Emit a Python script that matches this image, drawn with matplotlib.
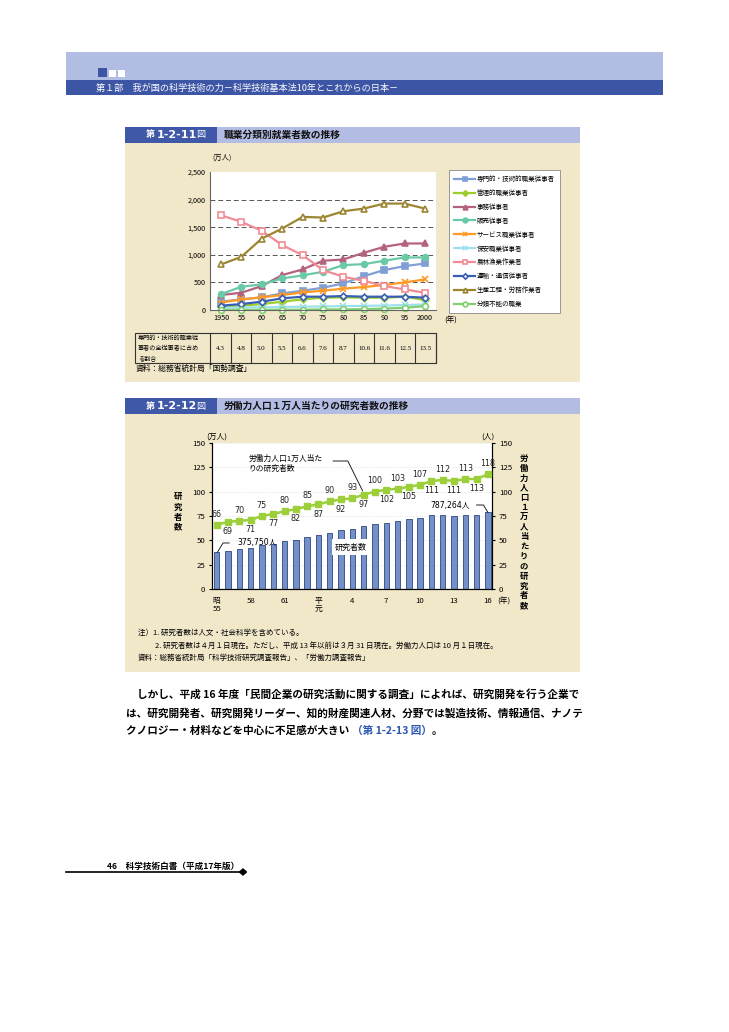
import numpy as np
import matplotlib
matplotlib.use('Agg')
import matplotlib.pyplot as plt
from matplotlib.patches import Rectangle, Polygon

plt.rcParams['font.family'] = ['Noto Sans CJK JP', 'DejaVu Sans']

W, H = 729, 1032

# ---- chart 1 data (万人) ----
years1 = [1950, 1955, 1960, 1965, 1970, 1975, 1980, 1985, 1990, 1995, 2000]
year_labels1 = ['1950', '55', '60', '65', '70', '75', '80', '85', '90', '95', '2000']
senmon = [151, 193, 229, 301, 349, 404, 482, 614, 723, 795, 843]
kanri = [60, 78, 108, 150, 193, 223, 229, 223, 223, 241, 181]
jimu = [271, 313, 434, 633, 735, 892, 916, 1036, 1145, 1205, 1205]
hanbai = [289, 422, 464, 572, 627, 693, 813, 831, 892, 952, 952]
service = [133, 193, 229, 271, 319, 349, 386, 416, 452, 500, 554]
hoan = [40, 45, 50, 55, 60, 65, 70, 75, 80, 90, 100]
nourin = [1717, 1596, 1434, 1175, 994, 723, 602, 530, 434, 373, 313]
unyu = [78, 108, 151, 211, 241, 241, 253, 241, 241, 241, 223]
seisan = [825, 964, 1295, 1476, 1687, 1675, 1789, 1837, 1928, 1928, 1837]
bunrui = [2, 3, 2, 5, 5, 10, 10, 15, 25, 40, 70]
share = ['4.3', '4.8', '5.0', '5.5', '6.6', '7.6', '8.7', '10.6', '11.6', '12.5', '13.5']

series1 = [
    ('専門的・技術的職業従事者', senmon, '#7f9fd6', 's', True),
    ('管理的職業従事者', kanri, '#9ccf2c', 'D', True),
    ('事務従事者', jimu, '#b4637f', '^', True),
    ('販売従事者', hanbai, '#6acaa6', 'o', True),
    ('サービス職業従事者', service, '#ff9a26', 'x', True),
    ('保安職業従事者', hoan, '#9fe0ec', 'x', True),
    ('農林漁業作業者', nourin, '#f28c94', 's', False),
    ('運輸・通信従事者', unyu, '#3a5fb2', 'D', False),
    ('生産工程・労務作業者', seisan, '#9c8632', '^', False),
    ('分類不能の職業', bunrui, '#80d070', 'o', False),
]

# ---- chart 2 data ----
researchers = [37.6, 39.5, 41.2, 42.2, 45.3, 46.0, 49.4, 50.5, 53.2, 55.3, 58.0, 60.8, 61.8,
               64.9, 67.0, 68.3, 70.0, 71.7, 73.0, 75.8, 75.8, 75.2, 75.8, 75.8, 78.7]
per10k = [66, 69, 70, 71, 75, 77, 80, 82, 85, 87, 90, 92, 93, 97, 100, 102, 103, 105,
          107, 111, 112, 111, 113, 113, 118]
xt2_pos = [0, 3, 6, 9, 12, 15, 18, 21, 24]
xt2_lab = ['昭\n55', '58', '61', '平\n元', '4', '7', '10', '13', '16']

LATIN_CJK = ['DejaVu Sans', 'Noto Sans CJK JP']


def box(x0, y0, x1, y1):
    return [x0 / W, 1 - y1 / H, (x1 - x0) / W, (y1 - y0) / H]


fig = plt.figure(figsize=(W / 100, H / 100), dpi=100)
page = fig.add_axes([0, 0, 1, 1])
page.set_xlim(0, W)
page.set_ylim(H, 0)
page.axis('off')


def rect(x0, y0, x1, y1, color, **kw):
    page.add_patch(Rectangle((x0, y0), x1 - x0, y1 - y0, facecolor=color, edgecolor='none', **kw))


# header
rect(66, 52, 663, 80, '#b2bde3')
rect(66, 80, 663, 95, '#3d55a5')
rect(98, 68, 107, 77, '#3d55a5')
rect(109, 70, 116, 77, 'white')
rect(118, 70, 125, 77, 'white')
page.text(96, 88, '第１部　我が国の科学技術の力－科学技術基本法10年とこれからの日本－',
          color='white', fontsize=6.6, va='center', ha='left')

BEIGE = '#f1e7c9'
LAV = '#b3bde3'
DARK = '#3f59a8'


def title_bar(y0, y1, num, title):
    rect(125, y0, 580, y1, LAV)
    rect(125, y0, 217, y1, DARK)
    page.text(146, (y0 + y1) / 2, '第', color='white', fontsize=6.5, va='center', ha='left', weight='bold')
    page.text(157, (y0 + y1) / 2, num, color='white', fontsize=8, va='center', ha='left', weight='bold',
              family='DejaVu Sans')
    page.text(196, (y0 + y1) / 2, '図', color='white', fontsize=6.5, va='center', ha='left')
    page.text(224, (y0 + y1) / 2, title, color='#111111', fontsize=7, va='center', ha='left', weight='bold')


# chart 1 frame
rect(125, 143, 580, 382, BEIGE)
title_bar(127, 143, '1-2-11', '職業分類別就業者数の推移')
page.text(212, 158, '(万人)', fontsize=5.2, va='center', ha='left')
page.text(444, 321, '(年)', fontsize=5.5, va='center', ha='left')

ax1 = fig.add_axes(box(210, 172, 436, 310))
for name, vals, col, mk, filled in series1:
    mfc = col if filled else 'white'
    ax1.plot(years1, vals, color=col, lw=1.6, marker=mk, ms=4.2 if mk != 'D' else 3.4,
             mfc=mfc, mec=col, mew=1.2, label=name, clip_on=False)
ax1.set_xlim(1947.3, 2002.7)
ax1.set_ylim(0, 2500)
ax1.set_yticks([0, 500, 1000, 1500, 2000, 2500])
ax1.set_yticklabels(['0', '500', '1,000', '1,500', '2,000', '2,500'])
ax1.set_xticks(years1)
ax1.set_xticklabels(year_labels1)
ax1.tick_params(labelsize=5.2, length=0, pad=3)
for y in [500, 1000, 1500, 2000]:
    ax1.axhline(y, color='#555555', lw=0.7, ls=(0, (5, 3)), zorder=0)
for s in ['top', 'right']:
    ax1.spines[s].set_visible(False)
ax1.spines['left'].set_color('#666666')
ax1.spines['bottom'].set_color('#666666')
ax1.set_facecolor('white')

leg = ax1.legend(loc='upper left', bbox_to_anchor=((449 - 210) / 226, 1.015), fontsize=4.7,
                 frameon=True, fancybox=False, edgecolor='#888888', handlelength=3.2,
                 labelspacing=0.9, borderpad=0.8, borderaxespad=0, handletextpad=0.3,
                 markerscale=0.8, framealpha=1)
leg.get_frame().set_linewidth(0.6)

# share table
tx0, tx1, ty0, ty1 = 135, 436, 333, 363
colw = (tx1 - 210) / len(share)
page.add_patch(Rectangle((tx0, ty0), tx1 - tx0, ty1 - ty0, facecolor='none', edgecolor='#333333', lw=0.8))
for k in range(len(share) + 1):
    xx = 210 + k * colw
    page.plot([xx, xx], [ty0, ty1], color='#333333', lw=0.8)
for k, v in enumerate(share):
    page.text(210 + (k + 0.5) * colw, (ty0 + ty1) / 2, v, fontsize=5, ha='center', va='center',
              family='Liberation Serif')
page.text(138, (ty0 + ty1) / 2, '専門的・技術的職業従\n事者の全従事者に占め\nる割合', fontsize=4.4,
          ha='left', va='center', linespacing=1.35)
page.text(136, 369, '資料：総務省統計局「国勢調査」', fontsize=5.6, ha='left', va='center')

# chart 2 frame
rect(125, 414, 580, 672, BEIGE)
title_bar(398, 414, '1-2-12', '労働力人口１万人当たりの研究者数の推移')

ax2 = fig.add_axes(box(212, 443, 492, 589))
x2 = np.arange(len(researchers))
ax2.bar(x2, researchers, width=0.48, color='#7391c8', edgecolor='#2e4680', lw=0.6, zorder=2)
ax2.set_xlim(-0.42, 24.36)
ax2.set_ylim(0, 150)
ax2.set_yticks(range(0, 151, 25))
ax2.set_xticks(xt2_pos)
ax2.set_xticklabels(xt2_lab, linespacing=1.0, va='top')
ax2.tick_params(labelsize=5.6, length=2, pad=3)
ax2.tick_params(axis='x', length=0, pad=6)
for y in range(25, 151, 25):
    ax2.axhline(y, color='#dddddd', lw=0.6, ls=':', zorder=1)
ax2.spines['top'].set_visible(False)
ax2.set_facecolor('white')

ax3 = ax2.twinx()
ax3.plot(x2, per10k, color='#9ccf3a', lw=1.8, marker='s', ms=5, mfc='#9ccf3a', mec='#9ccf3a',
         zorder=3, clip_on=False)
ax3.set_ylim(0, 150)
ax3.set_yticks(range(0, 151, 25))
ax3.tick_params(labelsize=5.6, length=2, pad=3)
ax3.spines['top'].set_visible(False)
for k, v in enumerate(per10k):
    dy = 11 if k % 2 == 0 else -10
    ax3.text(k, v + dy, str(v), fontsize=5.8, ha='center', va='center', color='#222222',
             family=LATIN_CJK)

page.text(206, 437, '(万人)', fontsize=5.6, ha='left', va='center')
page.text(481, 437, '(人)', fontsize=5.6, ha='left', va='center')
page.text(497, 602, '(年)', fontsize=5.6, ha='left', va='center')
page.text(178, 512, '研\n究\n者\n数', fontsize=6, ha='center', va='center', linespacing=1.15,
          weight='bold')
page.text(524, 532, '労\n働\n力\n人\n口\n１\n万\n人\n当\nた\nり\nの\n研\n究\n者\n数', fontsize=6,
          ha='center', va='center', linespacing=1.12, weight='bold')

# annotations with leader lines
ax2.text(1.8, 47.3, '375,750人', fontsize=5.6, ha='left', va='center', family=LATIN_CJK)
ax2.plot([1.1, 0.56, 0.05], [47.3, 47.3, researchers[0]], color='#222222', lw=0.7, zorder=4)
ax2.text(22.4, 86.3, '787,264人', fontsize=5.6, ha='right', va='center', family=LATIN_CJK)
ax2.plot([23.0, 23.6, 24.0], [86.3, 86.3, researchers[-1]], color='#222222', lw=0.7, zorder=4)
ax2.text(11.9, 43, '研究者数', fontsize=5.8, ha='center', va='center',
         bbox=dict(facecolor='white', edgecolor='none', pad=2.5), zorder=5)
ax3.text(2.8, 128.5, '労働力人口1万人当た\nりの研究者数', fontsize=5.6, ha='left', va='center',
         linespacing=1.3)
ax3.plot([10.3, 11.6, 12.9], [131.5, 131.5, per10k[13] + 4], color='#222222', lw=0.7, zorder=4)

# notes
page.text(138, 633, '注）1. 研究者数は人文・社会科学を含めている。', fontsize=5.4, ha='left', va='center')
page.text(155, 646, '2. 研究者数は４月１日現在。ただし、平成 13 年以前は３月 31 日現在。労働力人口は 10 月１日現在。',
          fontsize=5.4, ha='left', va='center')
page.text(138, 658, '資料：総務省統計局「科学技術研究調査報告」、「労働力調査報告」', fontsize=5.4,
          ha='left', va='center')

# body text
BFS = 7.65
page.text(137, 694, 'しかし、平成 16 年度「民間企業の研究活動に関する調査」によれば、研究開発を行う企業で',
          fontsize=BFS, ha='left', va='center', weight='bold')
page.text(126, 713, 'は、研究開発者、研究開発リーダー、知的財産関連人材、分野では製造技術、情報通信、ナノテ',
          fontsize=BFS, ha='left', va='center', weight='bold')
renderer = fig.canvas.get_renderer()
t3 = page.text(126, 731, 'クノロジー・材料などを中心に不足感が大きい ', fontsize=BFS, ha='left', va='center',
               weight='bold')
x_end = page.transData.inverted().transform(t3.get_window_extent(renderer))[1][0]
t4 = page.text(x_end, 731, '（第 1-2-13 図）', fontsize=BFS, ha='left', va='center', weight='bold',
               color='#2a55b0')
x_end = page.transData.inverted().transform(t4.get_window_extent(renderer))[1][0]
page.text(x_end, 731, '。', fontsize=BFS, ha='left', va='center', weight='bold')

# footer
page.text(107, 866, '46　科学技術白書（平成17年版）', fontsize=6.2, ha='left', va='center', weight='bold')
page.plot([66, 243], [872, 872], color='black', lw=1.2)
page.add_patch(Polygon([[243, 869], [246.5, 872], [243, 875], [239.5, 872]], closed=True, color='black'))

fig.savefig('out.png', dpi=100, facecolor='white')
